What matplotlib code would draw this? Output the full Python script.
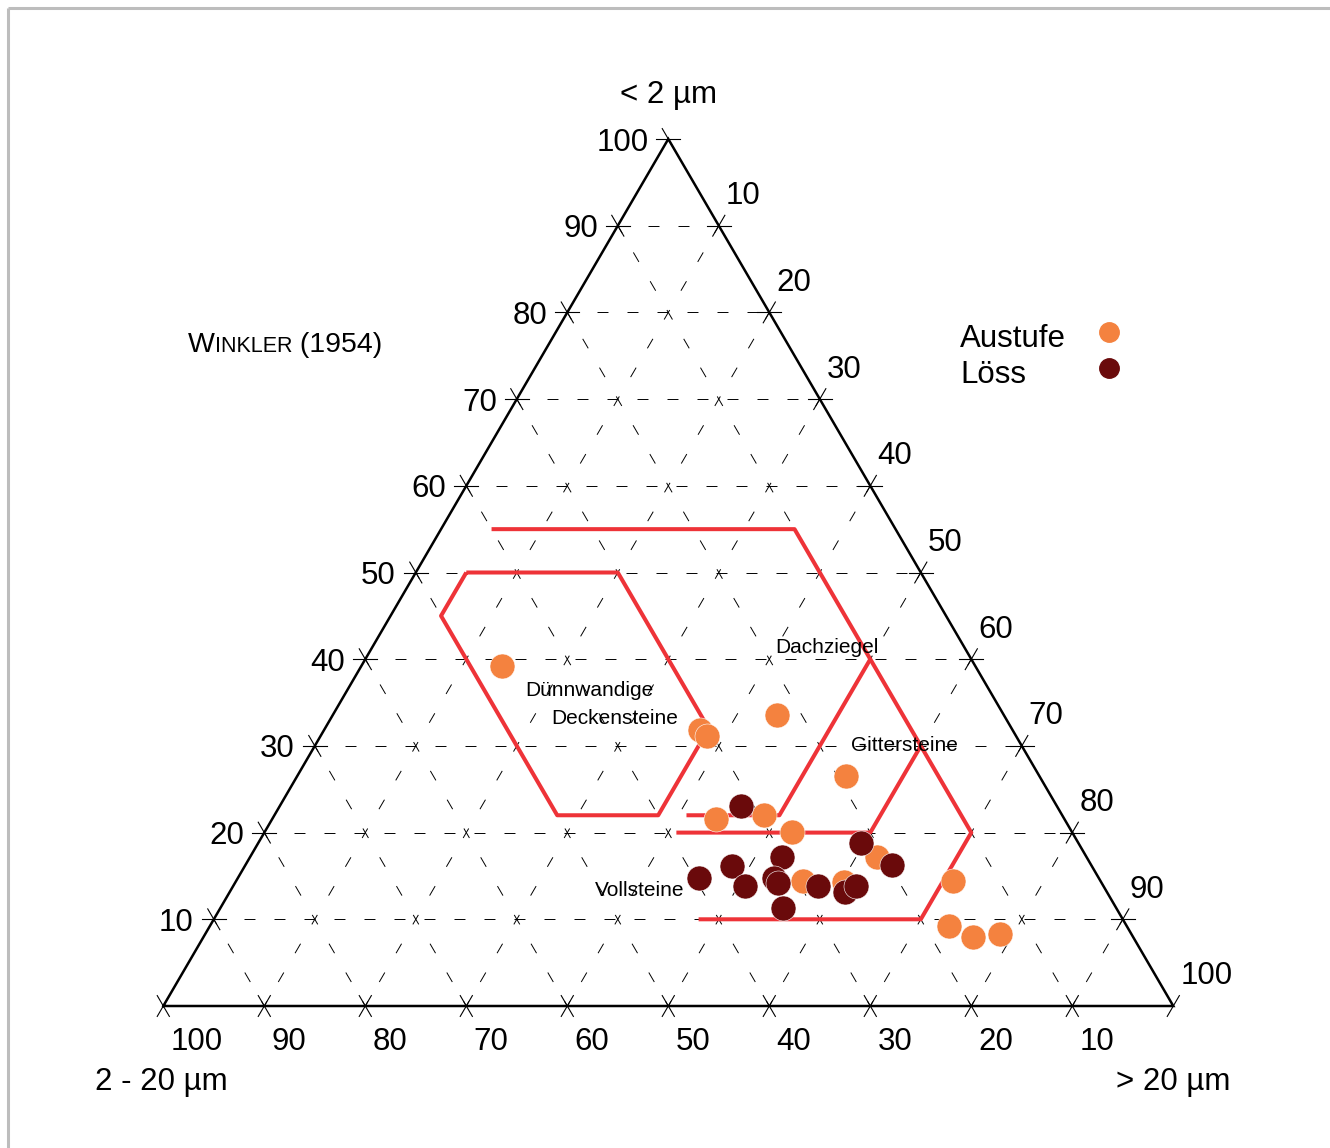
import matplotlib.pyplot as plt
import numpy as np

plt.rcParams['font.family'] = ['Liberation Sans', 'DejaVu Sans']
plt.rcParams['lines.scale_dashes'] = False

# ---------------------------------------------------------------- Messwerte: Ton (< 2 µm) und Sand (> 20 µm) in %, Schluff = Rest
austufe_ton = [39.2, 31.8, 31.1, 33.6, 26.5, 21.6, 22.0, 20.1, 17.2, 14.4, 14.3, 14.4, 9.2, 8.0, 8.3]
austufe_sand = [13.9, 37.2, 38.3, 44.0, 54.3, 43.9, 48.5, 52.2, 62.1, 56.1, 60.2, 71.0, 73.2, 76.2, 78.7]
loess_ton = [23.1, 14.8, 16.1, 13.8, 17.2, 14.8, 14.2, 11.3, 13.8, 13.2, 13.8, 18.8, 16.3]
loess_sand = [45.6, 45.6, 48.3, 50.7, 52.7, 53.1, 53.8, 55.7, 57.9, 60.9, 61.7, 59.7, 64.0]

# ---------------------------------------------------------------- Felder nach Winkler (1954), Eckpunkte (Ton, Sand)
feld_rand = [(55, 5), (55, 35), (20, 70), (10, 70), (10, 48)]
feld_decke = [(50, 5), (50, 20), (32, 38), (22, 38), (22, 28), (45, 5), (50, 5)]
feld_gitter_1 = [(22, 40.8), (22, 50), (40, 50)]
feld_gitter_2 = [(20, 40.8), (20, 60), (30, 60)]

feld_namen = ["Dachziegel", "Dünnwandige", "Deckensteine", "Gittersteine", "Vollsteine"]
feld_namen_pos = [(41.3, 45.1), (36.4, 24.0), (33.2, 28.1), (30.1, 58.3), (13.3, 40.5)]

achsen_ticks = [10, 20, 30, 40, 50, 60, 70, 80, 90, 100]
gitter = [10, 20, 30, 40, 50, 60, 70, 80, 90]

orange = "#F4823F"
dunkel = "#6A0A0B"
rot = "#EE3338"

W, H = 1330, 1148
fig = plt.figure(figsize=(W / 100, H / 100), dpi=100)
ax = fig.add_axes([163.3 / W, (H - 1006) / H, 1010 / W, 867 / H])
ax.set_xlim(0, 1)
ax.set_ylim(0, 1)
ax.axis("off")

# overlay in Pixeln für Beschriftungen außerhalb
ov = fig.add_axes([0, 0, 1, 1])
ov.set_xlim(0, W)
ov.set_ylim(H, 0)
ov.axis("off")
ov.patch.set_alpha(0)


def tern(ton, sand):
    ton = np.asarray(ton, float) / 100
    sand = np.asarray(sand, float) / 100
    return sand + ton / 2, ton


def linie(ton, sand, **kw):
    x, y = tern(ton, sand)
    ax.plot(x, y, clip_on=False, **kw)


# ---------------------------------------------------------------- Gitter
strich_h = (0, (7.9, 13.7))
strich_d = (4, (7.9, 16.1))
for v in gitter:
    linie([v, v], [0, 100 - v], color="black", lw=0.7, ls=strich_h)
    linie([0, 100 - v], [v, v], color="black", lw=0.7, ls=strich_d)
    linie([0, 100 - v], [100 - v, 0], color="black", lw=0.7, ls=strich_d)

# Dreieck
linie([0, 0, 100, 0], [0, 100, 0, 0], color="black", lw=1.8, solid_joinstyle="miter")

# Achsenstriche + Beschriftungen
d = 1.2
for v in achsen_ticks:
    # unten: 2 - 20 µm
    linie([-d, d], [100 - v, 100 - v], color="black", lw=0.8)
    linie([-d, d], [100 - v + d, 100 - v - d], color="black", lw=0.8)
    x, y = tern(0, 100 - v)
    ax.annotate(str(v), (x, y), xytext=(7, -33), textcoords="offset pixels",
                ha="left", va="center_baseline", fontsize=22.5, annotation_clip=False)
    # links: < 2 µm
    linie([v, v], [-d, d], color="black", lw=0.8)
    linie([v + d, v - d], [-d, d], color="black", lw=0.8)
    x, y = tern(v, 0)
    ax.annotate(str(v), (x, y), xytext=(-20, 0), textcoords="offset pixels",
                ha="right", va="center_baseline", fontsize=22.5, annotation_clip=False)
    # rechts: > 20 µm
    if v < 100:
        linie([100 - v, 100 - v], [v - d, v + d], color="black", lw=0.8)
    linie([100 - v - d, 100 - v + d], [v, v], color="black", lw=0.8)
    x, y = tern(100 - v, v)
    ax.annotate(str(v), (x, y), xytext=(7, 33), textcoords="offset pixels",
                ha="left", va="center_baseline", fontsize=22.5, annotation_clip=False)

# ---------------------------------------------------------------- Felder
for feld in [feld_rand, feld_decke, feld_gitter_1, feld_gitter_2]:
    t, s = zip(*feld)
    linie(t, s, color=rot, lw=2.9, solid_capstyle="butt", zorder=3)

for name, (t, s) in zip(feld_namen, feld_namen_pos):
    x, y = tern(t, s)
    ax.text(x, y, name, fontsize=15, ha="center", va="center", zorder=5)

# ---------------------------------------------------------------- Punkte
x, y = tern(austufe_ton, austufe_sand)
ax.plot(x, y, "o", ms=18, mfc=orange, mec="white", mew=0.4, ls="none", zorder=4, clip_on=False)
x, y = tern(loess_ton, loess_sand)
ax.plot(x, y, "o", ms=18, mfc=dunkel, mec="white", mew=0.4, ls="none", zorder=4, clip_on=False)

# ---------------------------------------------------------------- Texte
ov.text(668, 102.5, "< 2 µm", fontsize=22.5, ha="center", va="baseline")
ov.text(161.5, 1090, "2 - 20 µm", fontsize=22.5, ha="center", va="baseline")
ov.text(1173.5, 1090, "> 20 µm", fontsize=22.5, ha="center", va="baseline")

r = fig.canvas.get_renderer()
x0 = 188
for txt, fs in [("W", 20.5), ("INKLER", 15.5), (" (1954)", 20.5)]:
    t = ov.text(x0, 352.3, txt, fontsize=fs, ha="left", va="baseline")
    x0 += t.get_window_extent(r).width

# Legende
ov.text(960, 347.3, "Austufe", fontsize=22.5, ha="left", va="baseline")
ov.text(960, 383.3, "Löss", fontsize=22.5, ha="left", va="baseline")
ov.plot([1109], [331.7], "o", ms=14, color=orange)
ov.plot([1109], [368.3], "o", ms=14, color=dunkel)

# Rahmen
ov.plot([8, W], [8, 8], color="#BDBDBD", lw=2.2, solid_capstyle="butt")
ov.plot([8, 8], [8, H], color="#BDBDBD", lw=2.2, solid_capstyle="butt")

fig.savefig("out.png", dpi=100)
